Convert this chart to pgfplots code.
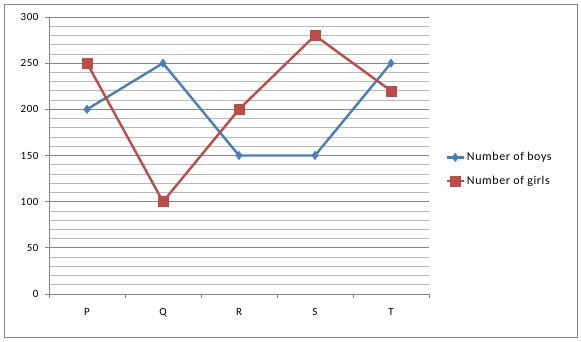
\documentclass[border=0pt]{standalone}
\usepackage{pgfplots}
\pgfplotsset{compat=1.18}
\usepackage{fontspec}
\setmainfont{Carlito}
\newfontfamily\legfont[LetterSpace=5]{Carlito}
\definecolor{boys}{HTML}{4A7EBB}
\definecolor{girls}{HTML}{BE4B48}
\definecolor{majg}{HTML}{868686}
\definecolor{ming}{HTML}{B9B9B9}
\begin{document}
\begin{tikzpicture}
\path (0pt,0pt) rectangle (581pt,341pt);
\draw[majg, line width=0.8pt] (4pt,4pt) rectangle (577pt,337pt);
\begin{axis}[
  at={(49pt,47pt)}, anchor=south west,
  scale only axis, width=380pt, height=277pt,
  xmin=-0.5, xmax=4.5, ymin=0, ymax=300,
  axis line style={majg, line width=0.8pt},
  axis x line*=bottom, axis y line*=left,
  xtick={-0.5,0.5,1.5,2.5,3.5,4.5}, xticklabels={},
  extra x ticks={0,1,2,3,4}, extra x tick labels={P,Q,R,S,T},
  extra x tick style={major tick length=0pt, xticklabel style={yshift=-11pt}, grid=none},
  ytick={0,50,...,300}, minor y tick num=4,
  ymajorgrids, yminorgrids,
  major grid style={majg, line width=0.8pt},
  minor grid style={ming, line width=0.8pt},
  tick style={majg, line width=0.8pt},
  major tick length=4pt, minor tick length=0pt,
  tick align=outside,
  /pgf/number format/assume math mode=true,
  tick label style={font=\legfont\fontsize{11}{12}\selectfont, black},
  yticklabel style={xshift=-3pt},
  legend style={at={(1.035,0.45)}, anchor=west, draw=none, fill=none,
    font=\legfont\fontsize{12}{14}\selectfont, row sep=10pt},
  legend cell align=left,
  clip=false,
]
\addplot[boys, line width=2.4pt, mark=diamond*, mark size=4.2pt, mark options={line width=0.5pt}]
  coordinates {(0,200) (1,250) (2,150) (3,150) (4,250)};
\addlegendentry{Number of boys}
\addplot[girls, line width=2.4pt, mark=square*, mark size=5pt, mark options={line width=0.5pt}]
  coordinates {(0,250) (1,100) (2,200) (3,280) (4,220)};
\addlegendentry{Number of girls}
\end{axis}
\end{tikzpicture}
\end{document}
